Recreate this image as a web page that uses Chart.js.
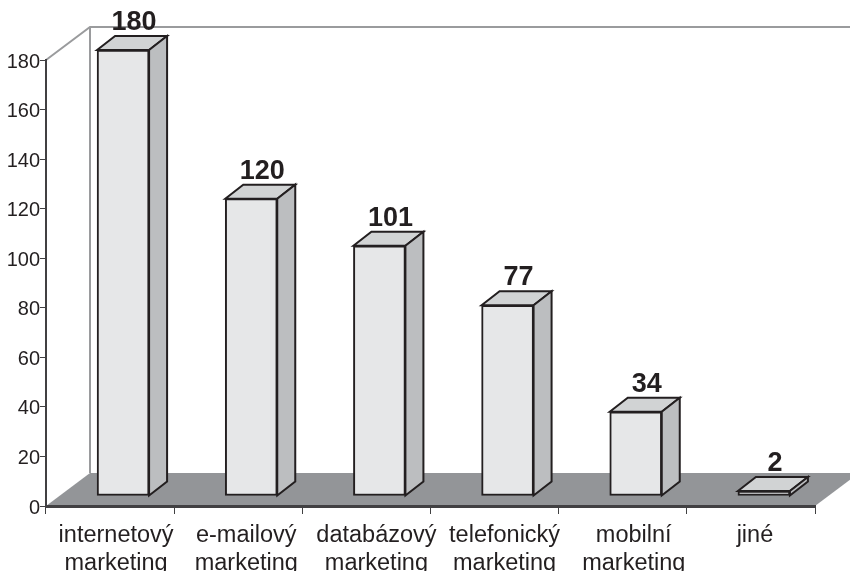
<!DOCTYPE html>
<html><head><meta charset="utf-8">
<style>html,body{margin:0;padding:0;background:#fff;overflow:hidden}canvas{display:block}</style>
<script src="https://cdn.jsdelivr.net/npm/chart.js@4"></script>
</head><body><canvas id="c" width="850" height="571"></canvas>
<script>
const categories = [["internetový","marketing"],["e-mailový","marketing"],["databázový","marketing"],["telefonický","marketing"],["mobilní","marketing"],["jiné"]];
const values = [180,120,101,77,34,2];
const yTicks = [0,20,40,60,80,100,120,140,160,180];
const labelShift = [6,8,10,10,11,4];
const depth = {x:18,y:-14}, wall = {x:44,y:-33}, barShift = {x:13,y:-10};
const ink = '#231f20';

const threeD = {
  id:'threeD',
  beforeDraw(chart){
    const {ctx,chartArea:a,scales:{x,y}} = chart;
    if(!chart.$shifted){
      x.getLabelItems().forEach((it,i)=>{it.options.translation[0]+=labelShift[i];});
      y.getLabelItems().forEach(it=>{it.options.translation[1]+=2;});
      chart.$shifted = true;
    }
    const bx=a.left+wall.x, by=a.bottom+wall.y, ty=a.top+wall.y;
    ctx.save();
    ctx.fillStyle='#939598';
    ctx.beginPath();ctx.moveTo(a.left,a.bottom);ctx.lineTo(bx,by);ctx.lineTo(a.right+wall.x,by);ctx.lineTo(a.right,a.bottom);ctx.closePath();ctx.fill();
    ctx.strokeStyle='#9a9b9d';ctx.lineWidth=2;
    ctx.beginPath();ctx.moveTo(a.left,a.top);ctx.lineTo(bx,ty);ctx.lineTo(850,ty);ctx.moveTo(bx,ty);ctx.lineTo(bx,by);ctx.stroke();
    ctx.restore();
  },
  beforeDatasetDraw(chart){
    const ctx=chart.ctx;
    ctx.save();
    ctx.translate(barShift.x,barShift.y);
    ctx.lineWidth=2;ctx.strokeStyle=ink;ctx.lineJoin='miter';
    chart.getDatasetMeta(0).data.forEach(b=>{
      const l=b.x-b.width/2, r=b.x+b.width/2, t=b.y, bo=b.base;
      ctx.fillStyle='#d1d3d4';
      ctx.beginPath();ctx.moveTo(l,t);ctx.lineTo(l+depth.x,t+depth.y);ctx.lineTo(r+depth.x,t+depth.y);ctx.lineTo(r,t);ctx.closePath();ctx.fill();ctx.stroke();
      ctx.fillStyle='#bcbec0';
      ctx.beginPath();ctx.moveTo(r,t);ctx.lineTo(r+depth.x,t+depth.y);ctx.lineTo(r+depth.x,bo+depth.y);ctx.lineTo(r,bo);ctx.closePath();ctx.fill();ctx.stroke();
    });
  },
  afterDatasetDraw(chart){
    const ctx=chart.ctx;
    ctx.fillStyle=ink;ctx.font='bold 27px "Liberation Sans"';ctx.textAlign='center';ctx.textBaseline='alphabetic';
    chart.getDatasetMeta(0).data.forEach((b,i)=>{
      ctx.fillText(String(values[i]),b.x+11,b.y+depth.y-6);
    });
    ctx.restore();
  }
};

new Chart(document.getElementById('c'),{
  type:'bar',
  data:{labels:categories,datasets:[{data:values,backgroundColor:'#e6e7e8',borderColor:ink,borderWidth:2,borderSkipped:false,barThickness:52}]},
  options:{
    responsive:false,animation:false,
    layout:{padding:{left:0,top:60,right:35,bottom:0}},
    plugins:{legend:{display:false},tooltip:{enabled:false}},
    scales:{
      x:{
        offset:true,
        afterFit(s){s.height=65;},
        grid:{offset:true,drawOnChartArea:false,drawTicks:true,tickLength:8,color:'#414042',lineWidth:1},
        border:{color:'#414042',width:3},
        ticks:{maxRotation:0,minRotation:0,autoSkip:false,padding:8,color:ink,font:{family:'"Liberation Sans"',size:23.5,lineHeight:1.19}}
      },
      y:{
        min:0,max:180,
        afterFit(s){s.width=46;},
        afterBuildTicks(s){s.ticks=yTicks.map(v=>({value:v}));},
        grid:{drawOnChartArea:false,drawTicks:true,tickLength:6,color:'#414042',lineWidth:1},
        border:{color:'#414042',width:2},
        ticks:{padding:0,color:ink,font:{family:'"Liberation Sans"',size:20}}
      }
    }
  },
  plugins:[threeD]
});
</script></body></html>
